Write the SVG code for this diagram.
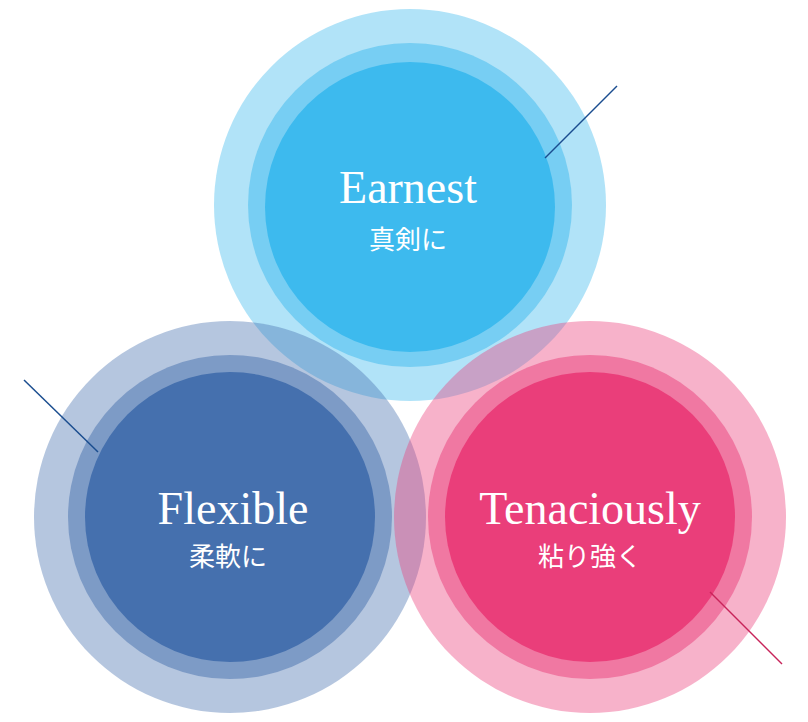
<svg xmlns="http://www.w3.org/2000/svg" width="808" height="722" viewBox="0 0 808 722">
<style>
.en{font-family:"Liberation Serif",serif;font-size:46px;fill:#fff;text-anchor:middle}
.jp{font-family:"Noto Sans CJK JP",sans-serif;font-size:26px;fill:#fff;text-anchor:middle}
</style>
<rect width="808" height="722" fill="#fff"/>
<g id="earnest">
<circle cx="410" cy="205" r="196" fill="#3dbaee" opacity="0.4"/>
<circle cx="410" cy="205" r="162" fill="#3dbaee" opacity="0.5"/>
<circle cx="410" cy="207" r="145" fill="#3dbaee"/>
<text class="en" x="408" y="203">Earnest</text>
<text class="jp" x="408" y="249">真剣に</text>
</g>
<g id="flexible">
<circle cx="230" cy="517" r="196" fill="#4570ae" opacity="0.4"/>
<circle cx="230" cy="517" r="162" fill="#4570ae" opacity="0.5"/>
<circle cx="230" cy="517" r="145" fill="#4570ae"/>
<text class="en" x="233" y="524">Flexible</text>
<text class="jp" x="228" y="566">柔軟に</text>
</g>
<g id="tenaciously">
<circle cx="590" cy="517" r="196" fill="#ea3e7a" opacity="0.4"/>
<circle cx="590" cy="517" r="162" fill="#ea3e7a" opacity="0.5"/>
<circle cx="590" cy="517" r="145" fill="#ea3e7a"/>
<text class="en" x="590" y="524">Tenaciously</text>
<text class="jp" x="590" y="566">粘り強く</text>
</g>
<g id="connectors" stroke-width="1.5">
<line x1="545" y1="158" x2="617" y2="86" stroke="#1a4d8f"/>
<line x1="24" y1="380" x2="98" y2="452" stroke="#1a4d8f"/>
<line x1="710" y1="592" x2="782" y2="664" stroke="#c8245a"/>
</g>
</svg>
